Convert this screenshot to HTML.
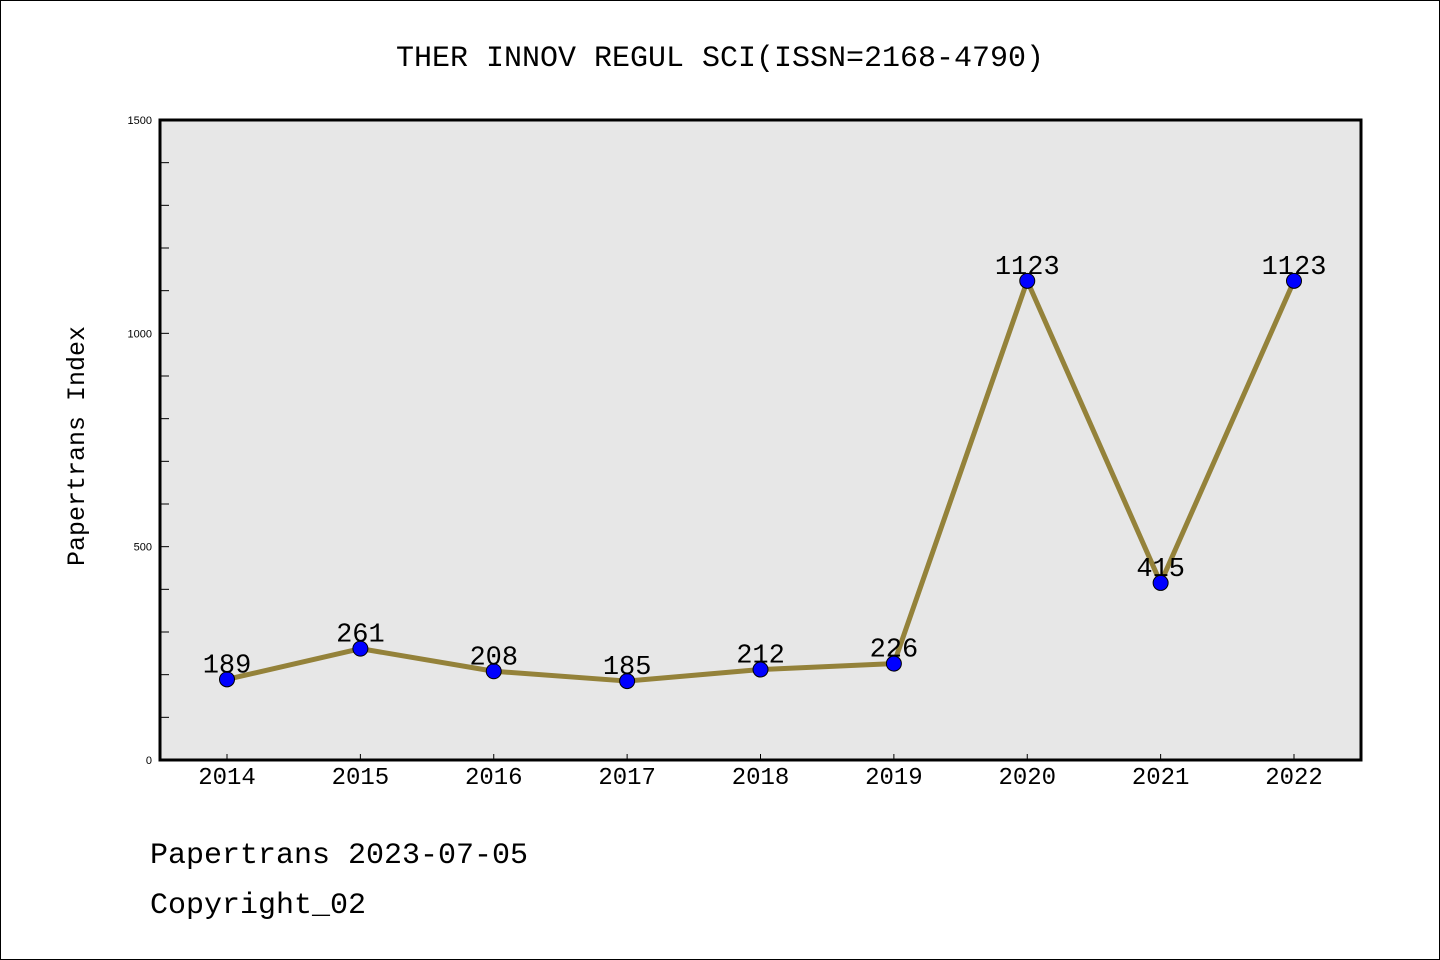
<!DOCTYPE html>
<html><head><meta charset="utf-8"><style>
body{margin:0;background:#fff}
svg{display:block;font-family:"Liberation Mono",monospace}
</style></head><body>
<svg id="c" width="1440" height="960" xmlns="http://www.w3.org/2000/svg">
<rect x="0.5" y="0.5" width="1439" height="959" fill="#fff" stroke="#000"/>
<text x="720" y="66" text-anchor="middle" font-size="30">THER INNOV REGUL SCI(ISSN=2168-4790)</text>
<rect x="160" y="120" width="1201" height="640" fill="#e7e7e7"/>
<g id="ticks"></g>
<g id="series"></g>
<rect x="160" y="120" width="1201" height="640" fill="none" stroke="#000" stroke-width="3"/>
<text transform="translate(84,446) rotate(-90)" text-anchor="middle" font-size="25">Papertrans Index</text>
<text x="150" y="863" font-size="30">Papertrans 2023-07-05</text>
<text x="150" y="913" font-size="30">Copyright_02</text>
</svg>
<script>
const years=["2014","2015","2016","2017","2018","2019","2020","2021","2022"];
const values=[189,261,208,185,212,226,1123,415,1123];
const yTickLabels=[0,500,1000,1500];
const NS="http://www.w3.org/2000/svg";
const x0=227,x1=1294,yBase=760,yTop=120,yMax=1500;
function xs(i){return x0+(x1-x0)*i/(years.length-1);}
function ys(v){return yBase-(yBase-yTop)*v/yMax;}
function mk(tag,attrs,parent,text){const e=document.createElementNS(NS,tag);for(const k in attrs)e.setAttribute(k,attrs[k]);if(text!==undefined)e.textContent=text;parent.appendChild(e);return e;}
const tg=document.getElementById('ticks'),sg=document.getElementById('series');
for(let v=100;v<yMax;v+=100){
 const t=mk('line',{x1:160,x2:169,y1:ys(v),y2:ys(v),stroke:'#000','stroke-width':1},tg);
 
 
}
yTickLabels.forEach(v=>{
 const t=mk('text',{x:152,y:ys(v)+4,'text-anchor':'end','font-size':11,'font-family':'Liberation Sans, sans-serif'},tg,String(v));
 
 
});
years.forEach((yr,i)=>{
 const t=mk('line',{x1:xs(i),x2:xs(i),y1:760,y2:754,stroke:'#000','stroke-width':1},tg);
 
 
 const l=mk('text',{x:xs(i),y:784,'text-anchor':'middle','font-size':24},tg,yr);
 
 
});
const pts=values.map((v,i)=>xs(i)+','+ys(v)).join(' ');
const line=mk('polyline',{points:pts,fill:'none',stroke:'#94823a','stroke-width':5,'stroke-linejoin':'round'},sg);


values.forEach((v,i)=>{
 const c=mk('circle',{cx:xs(i),cy:ys(v),r:7.5,fill:'#0000ff',stroke:'#000','stroke-width':1},sg);
 
 
 const t=mk('text',{x:xs(i),y:ys(v)-7,'text-anchor':'middle','font-size':27},sg,String(v));
 
 
});
</script>
</body></html>
